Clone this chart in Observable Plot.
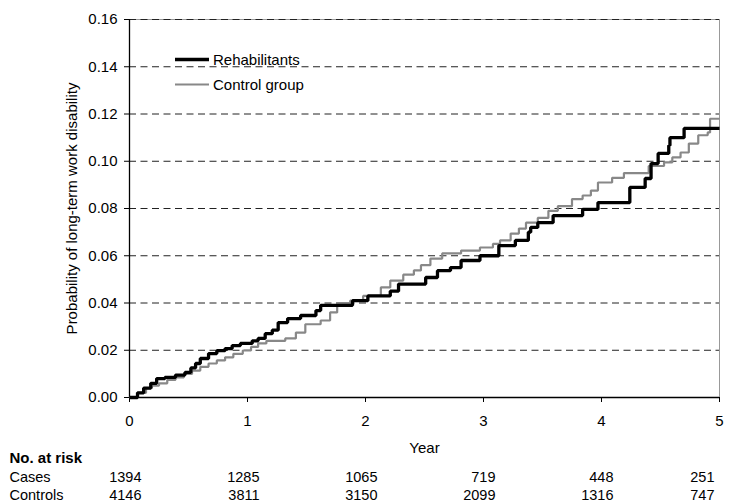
<!DOCTYPE html>
<html>
<head>
<meta charset="utf-8">
<script src="https://cdn.jsdelivr.net/npm/d3@7"></script>
<script src="https://cdn.jsdelivr.net/npm/@observablehq/plot@0.6"></script>
<style>
  html, body { margin: 0; padding: 0; background: white; }
  #wrap { position: relative; width: 729px; height: 502px; font-family: "Liberation Sans", Arial, sans-serif; }
  .legend { position: absolute; left: 175px; top: 47px; font-size: 15px; color: #000; }
  .legend .row { display: flex; align-items: center; height: 25px; }
  .legend svg { display: block; margin-right: 4px; }
</style>
</head>
<body>
<div id="wrap"></div>
<script>
// ---- data ----
const seriesNames = ["Rehabilitants", "Control group"];

const recTimes = [0, 0.068, 0.12, 0.18, 0.23, 0.30, 0.39, 0.47, 0.52, 0.56, 0.60, 0.67, 0.74, 0.81, 0.87, 0.94, 1.04, 1.09, 1.15, 1.21, 1.26, 1.34, 1.45, 1.58, 1.62, 1.89, 2.02, 2.21, 2.28, 2.51, 2.61, 2.72, 2.81, 2.97, 3.13, 3.27, 3.38, 3.40, 3.46, 3.59, 3.84, 3.97, 4.24, 4.37, 4.42, 4.48, 4.57, 4.58, 4.70, 5.0];
const recValues = [0, 0.002, 0.004, 0.006, 0.008, 0.0085, 0.0095, 0.0106, 0.0125, 0.0144, 0.0165, 0.0186, 0.0198, 0.0207, 0.022, 0.0229, 0.024, 0.025, 0.027, 0.0285, 0.0317, 0.0334, 0.0347, 0.0368, 0.039, 0.041, 0.043, 0.045, 0.048, 0.0508, 0.0537, 0.055, 0.058, 0.060, 0.0643, 0.0665, 0.070, 0.072, 0.074, 0.077, 0.0796, 0.0825, 0.0889, 0.0927, 0.099, 0.1033, 0.1067, 0.110, 0.1139, 0.1139];

const ctrlTimes = [0, 0.068, 0.14, 0.19, 0.25, 0.32, 0.39, 0.46, 0.53, 0.60, 0.67, 0.74, 0.81, 0.88, 0.96, 1.03, 1.09, 1.16, 1.32, 1.41, 1.49, 1.62, 1.70, 1.76, 1.87, 1.98, 2.13, 2.21, 2.32, 2.41, 2.47, 2.55, 2.65, 2.81, 2.97, 3.08, 3.14, 3.23, 3.30, 3.36, 3.46, 3.55, 3.63, 3.75, 3.84, 3.91, 3.97, 4.09, 4.19, 4.40, 4.53, 4.60, 4.67, 4.74, 4.82, 4.90, 4.92, 5.0];
const ctrlValues = [0, 0.002, 0.004, 0.005, 0.006, 0.0075, 0.0085, 0.010, 0.0114, 0.013, 0.0144, 0.0157, 0.017, 0.0185, 0.0199, 0.0214, 0.0229, 0.024, 0.025, 0.0275, 0.031, 0.0326, 0.036, 0.040, 0.041, 0.043, 0.0466, 0.0495, 0.052, 0.0538, 0.056, 0.0588, 0.061, 0.0622, 0.0635, 0.065, 0.0665, 0.0694, 0.0715, 0.074, 0.076, 0.079, 0.081, 0.084, 0.0855, 0.0876, 0.091, 0.093, 0.095, 0.098, 0.0995, 0.1016, 0.1037, 0.1075, 0.111, 0.1122, 0.118, 0.118];

const xTicks = [0, 1, 2, 3, 4, 5];
const yTicks = [0, 0.02, 0.04, 0.06, 0.08, 0.10, 0.12, 0.14, 0.16];
const riskYears = [0, 1, 2, 3, 4, 5];
const riskCases = [1394, 1285, 1065, 719, 448, 251];
const riskControls = [4146, 3811, 3150, 2099, 1316, 747];
const riskTitle = "No. at risk";
const riskRowNames = ["Cases", "Controls"];
const xLabel = "Year";
const yLabel = "Probability of long-term work disability";

// ---- build tables ----
const rec = recTimes.map((t, i) => ({t, v: recValues[i]}));
const ctrl = ctrlTimes.map((t, i) => ({t, v: ctrlValues[i]}));
const casesRow = riskYears.map((y, i) => ({year: y, n: riskCases[i]}));
const ctrlRow = riskYears.map((y, i) => ({year: y, n: riskControls[i]}));

const black = "#000";
const gray = "#888";
const numText = d => String(d.n);

const chart = Plot.plot({
  width: 729,
  height: 502,
  marginTop: 19,
  marginBottom: 105,
  marginLeft: 129,
  marginRight: 10,
  style: {fontFamily: "Liberation Sans, Arial, sans-serif", fontSize: "15px", background: "white", color: "#000", overflow: "visible"},
  x: {domain: [0, 5]},
  y: {domain: [0, 0.16]},
  marks: [
    Plot.frame({stroke: "#999", strokeWidth: 1}),
    Plot.ruleY(yTicks.filter(d => d > 0), {stroke: "#222", strokeWidth: 1, strokeDasharray: "7,4.5"}),
    Plot.ruleX([0], {stroke: black, strokeWidth: 1.3}),
    Plot.ruleY([0], {stroke: black, strokeWidth: 1.3}),
    Plot.axisY({ticks: yTicks, tickFormat: d3.format(".2f"), tickSize: 5, tickPadding: 7, label: null, fontSize: 15}),
    Plot.axisX({ticks: xTicks, tickFormat: d3.format("d"), tickSize: 5, tickPadding: 13, label: null, fontSize: 15}),
    Plot.line(ctrl, {x: "t", y: "v", curve: "step-after", stroke: gray, strokeWidth: 2.2, strokeLinejoin: "miter", strokeLinecap: "butt"}),
    Plot.line(rec, {x: "t", y: "v", curve: "step-after", stroke: black, strokeWidth: 3.3, strokeLinejoin: "miter", strokeLinecap: "butt"}),
    // axis titles
    Plot.text([xLabel], {frameAnchor: "bottom", dy: 51, lineAnchor: "middle", textAnchor: "middle", fontSize: 15}),
    Plot.text([yLabel], {frameAnchor: "left", dx: -57, rotate: -90, lineAnchor: "middle", textAnchor: "middle", fontSize: 15}),
    // number at risk table
    Plot.text([riskTitle], {frameAnchor: "bottom-left", dx: -120, dy: 61, textAnchor: "start", lineAnchor: "middle", fontWeight: "bold", fontSize: 15}),
    Plot.text([riskRowNames[0]], {frameAnchor: "bottom-left", dx: -120, dy: 80, textAnchor: "start", lineAnchor: "middle", fontSize: 14.5}),
    Plot.text([riskRowNames[1]], {frameAnchor: "bottom-left", dx: -120, dy: 98, textAnchor: "start", lineAnchor: "middle", fontSize: 14.5}),
    Plot.text(casesRow.filter(d => d.year < 5), {x: "year", text: numText, frameAnchor: "bottom", dy: 80, dx: 12, textAnchor: "end", lineAnchor: "middle", fontSize: 14.5}),
    Plot.text(casesRow.filter(d => d.year === 5), {x: "year", text: numText, frameAnchor: "bottom", dy: 80, dx: -5, textAnchor: "end", lineAnchor: "middle", fontSize: 14.5}),
    Plot.text(ctrlRow.filter(d => d.year < 5), {x: "year", text: numText, frameAnchor: "bottom", dy: 98, dx: 12, textAnchor: "end", lineAnchor: "middle", fontSize: 14.5}),
    Plot.text(ctrlRow.filter(d => d.year === 5), {x: "year", text: numText, frameAnchor: "bottom", dy: 98, dx: -5, textAnchor: "end", lineAnchor: "middle", fontSize: 14.5})
  ]
});

const wrap = document.getElementById("wrap");
wrap.appendChild(chart);

// legend (inside plot area, upper left)
const legend = document.createElement("div");
legend.className = "legend";
const legendStyles = [{stroke: black, width: 3.5}, {stroke: gray, width: 2.2}];
seriesNames.forEach((name, i) => {
  const row = document.createElement("div");
  row.className = "row";
  row.innerHTML = `<svg width="34" height="25"><line x1="0" x2="34" y1="12.5" y2="12.5" stroke="${legendStyles[i].stroke}" stroke-width="${legendStyles[i].width}"/></svg><span>${name}</span>`;
  legend.appendChild(row);
});
wrap.appendChild(legend);
</script>
</body>
</html>
